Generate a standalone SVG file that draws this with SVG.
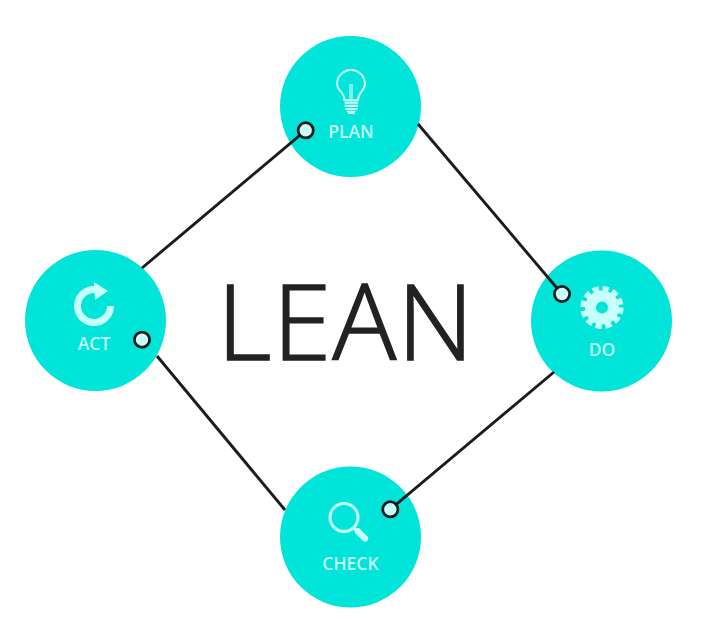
<svg xmlns="http://www.w3.org/2000/svg" width="725" height="619" viewBox="0 0 725 619">
<style>
.disc{fill:#00E4D9}
.lab{font-family:"Open Sans","Liberation Sans",sans-serif;font-weight:600;font-size:17.5px;fill:#C4FBF7;text-anchor:middle}
.dot{fill:#C8FFFB;stroke:#1c1c1c;stroke-width:2.8}
.ln{stroke:#1c1c1c;stroke-width:2.9;fill:none}
.ico{fill:none;stroke:#C8FFFB}
.sol{fill:#C8FFFB}
</style>
<rect width="725" height="619" fill="#fff"/>
<g id="node-plan">
<circle class="disc" cx="350.5" cy="106.5" r="70.5"/>
<path class="ico" stroke-width="2" d="M344.5,100 C344.5,92 337,91 337,84 A14,14 0 0 1 365,84 C365,91 358,92 358,100 Z"/>
<rect class="sol" x="349" y="84" width="4" height="16" opacity=".6"/>
<path class="ico" stroke-width="2.2" d="M344.5,102.7H358M344.5,105.9H358M345,109H357.5"/>
<path class="sol" d="M346.5,110.8H356L354,114H348.5Z"/>
<text class="lab" x="351" y="137.5">PLAN</text>
</g>
<g id="node-do">
<circle class="disc" cx="601.5" cy="321" r="70.5"/>
<circle class="ico" cx="602" cy="307.5" r="11.5" stroke-width="11"/>
<circle class="ico" cx="602" cy="307.5" r="18.8" stroke-width="5.6" stroke-dasharray="6.2 3.64"/>
<text class="lab" x="602" y="355.5">DO</text>
</g>
<g id="node-check">
<circle class="disc" cx="350.5" cy="537" r="70.5"/>
<circle class="ico" cx="344" cy="517.5" r="14" stroke-width="3"/>
<path class="ico" stroke-width="2.6" d="M353.5,527.5L358,532"/>
<path class="ico" stroke-width="6.4" stroke-linecap="round" d="M358,531.5L365,538.5"/>
<text class="lab" x="350.5" y="569.5">CHECK</text>
</g>
<g id="node-act">
<circle class="disc" cx="95.5" cy="320.5" r="70.5"/>
<path class="ico" stroke-width="7" d="M96,289.6 A16.5,16.5 0 1 0 110.5,306"/>
<path class="sol" d="M94,282L108,291L95,300Z"/>
<text class="lab" x="94" y="350">ACT</text>
</g>
<g id="connectors">
<path class="ln" d="M305.7,130.3L142,268"/>
<path class="ln" d="M562,294L418,124"/>
<path class="ln" d="M390.3,509.3L554,372"/>
<path class="ln" d="M157,356L285,510"/>
<circle class="dot" cx="305.7" cy="130.3" r="7.6"/>
<circle class="dot" cx="562" cy="294" r="7.6"/>
<circle class="dot" cx="390.3" cy="509.3" r="7.6"/>
<circle class="dot" cx="142" cy="339.7" r="7.6"/>
</g>
<text id="title" x="346" y="360" font-family="'Open Sans','Liberation Sans',sans-serif" font-weight="300" font-size="106" letter-spacing="1.2" fill="#222" stroke="#222" stroke-width="1.6" text-anchor="middle">LEAN</text>
</svg>
